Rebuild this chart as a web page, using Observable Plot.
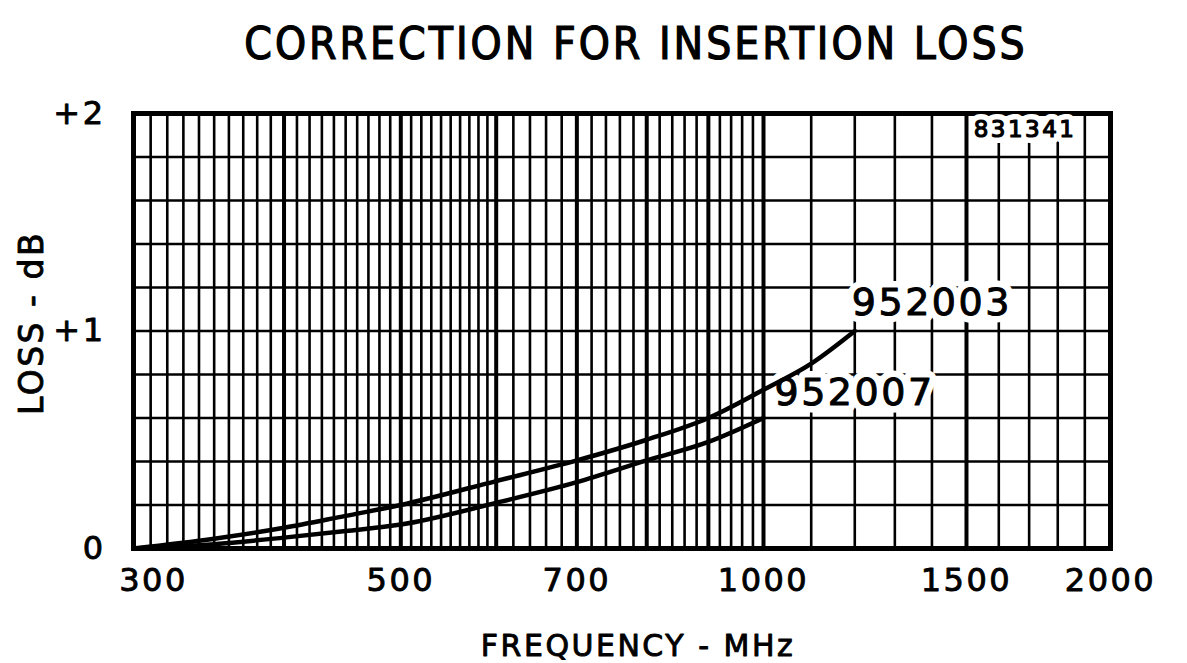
<!DOCTYPE html>
<html>
<head>
<meta charset="utf-8">
<script src="https://cdn.jsdelivr.net/npm/d3@7"></script>
<script src="https://cdn.jsdelivr.net/npm/@observablehq/plot@0.6"></script>
<style>
  html, body { margin: 0; padding: 0; background: #fff; overflow: hidden; }
  #title {
    position: absolute; left: 636px; top: 43px; transform: translate(-50%, -50%);
    font-family: "DejaVu Sans Condensed", "DejaVu Sans", sans-serif;
    font-size: 44px; letter-spacing: 3px; color: #000; white-space: nowrap;
    -webkit-text-stroke: 1.2px #000;
  }
  #chart { position: absolute; left: 0; top: 80px; }
  #chart svg text { letter-spacing: 2.5px; }
</style>
</head>
<body>
<div id="title">CORRECTION FOR INSERTION LOSS</div>
<div id="chart"></div>
<script>
// ---- data ----
const freq952003 = [300, 350, 400, 450, 500, 600, 700, 800, 900, 1000, 1100, 1200];
const loss952003 = [0, 0.045, 0.095, 0.15, 0.2, 0.31, 0.405, 0.5, 0.6, 0.73, 0.85, 1.0];
const freq952007 = [300, 350, 400, 450, 500, 600, 700, 800, 900, 1000];
const loss952007 = [0, 0.02, 0.05, 0.08, 0.11, 0.21, 0.305, 0.405, 0.49, 0.6];
const seriesNames = ["952003", "952007"];

const xTickValues = [300, 500, 700, 1000, 1500, 2000];
const yTickValues = [0, 1, 2];
const yTickLabels = ["0", "+1", "+2"];
const chartId = "831341";

// graph-paper rulings
const heavyFreq = [400, 500, 600, 700, 800, 900, 1000, 1500];
const fineFreq = [...d3.range(310, 600, 10), ...d3.range(600, 1000, 20), ...d3.range(1100, 2000, 100)]
  .filter(f => !heavyFreq.includes(f) && f !== 300);
const gridLoss = d3.range(0.2, 1.99, 0.2);

const s03 = freq952003.map((f, i) => ({f, v: loss952003[i]}));
const s07 = freq952007.map((f, i) => ({f, v: loss952007[i]}));
const end03 = [s03[s03.length - 1]];
const end07 = [s07[s07.length - 1]];

const labelFont = 38;
const ink = "#000";
function curveLabel(data, name, dx, dy) {
  return [
    Plot.text(data, {x: "f", y: "v", text: () => name, textAnchor: "start", dx, dy,
      fontSize: labelFont, fill: "#fff", stroke: "#fff", strokeWidth: 14}),
    Plot.text(data, {x: "f", y: "v", text: () => name, textAnchor: "start", dx, dy,
      fontSize: labelFont, fill: ink, stroke: ink, strokeWidth: 1})
  ];
}
const axisText = {tickSize: 0, fontSize: 32, label: null, textStroke: ink, textStrokeWidth: 0.9,
  tickFormat: d => String(d)};

const chart = Plot.plot({
  width: 1187,
  height: 583,
  marginLeft: 133,
  marginRight: 77,
  marginTop: 33,
  marginBottom: 115,
  x: {type: "log", domain: [300, 1000, 2000], range: [133, 763, 1110]},
  y: {domain: [0, 2]},
  style: {fontFamily: "DejaVu Sans", color: "#000", background: "#fff"},
  marks: [
    Plot.ruleX(fineFreq, {stroke: ink, strokeWidth: 2.6}),
    Plot.ruleX(heavyFreq, {stroke: ink, strokeWidth: 4}),
    Plot.ruleY(gridLoss, {stroke: ink, strokeWidth: 2.6}),
    Plot.frame({stroke: ink, strokeWidth: 5}),
    // curve labels with white knock-out
    ...curveLabel(end03, seriesNames[0], -3, -28),
    ...curveLabel(end07, seriesNames[1], 11, -25),
    Plot.text([chartId], {frameAnchor: "top-right", textAnchor: "end", dx: -34, dy: 7,
      fontSize: 23, fill: "#fff", stroke: "#fff", strokeWidth: 12}),
    Plot.text([chartId], {frameAnchor: "top-right", textAnchor: "end", dx: -34, dy: 7,
      fontSize: 23, fill: ink, stroke: ink, strokeWidth: 1.2}),
    // curves
    Plot.line(s03, {x: "f", y: "v", curve: "monotone-x", stroke: ink, strokeWidth: 4.5}),
    Plot.line(s07, {x: "f", y: "v", curve: "monotone-x", stroke: ink, strokeWidth: 4.5}),
    // axes
    Plot.axisX(xTickValues.slice(1), {...axisText, tickPadding: 20}),
    Plot.axisX(xTickValues.slice(0, 1), {...axisText, tickPadding: 20, dx: 20}),
    Plot.axisY(yTickValues, {...axisText, tickPadding: 28,
      tickFormat: d => yTickLabels[yTickValues.indexOf(d)]}),
    Plot.text(["FREQUENCY - MHz"], {frameAnchor: "bottom", textAnchor: "middle", lineAnchor: "middle",
      dy: 98, dx: 16, fontSize: 30, fill: ink, stroke: ink, strokeWidth: 0.9}),
    Plot.text(["LOSS - dB"], {frameAnchor: "left", textAnchor: "middle", dx: -101, dy: -8, rotate: -90,
      fontSize: 33, fill: ink, stroke: ink, strokeWidth: 0.9})
  ]
});
document.getElementById("chart").appendChild(chart);
</script>
</body>
</html>
